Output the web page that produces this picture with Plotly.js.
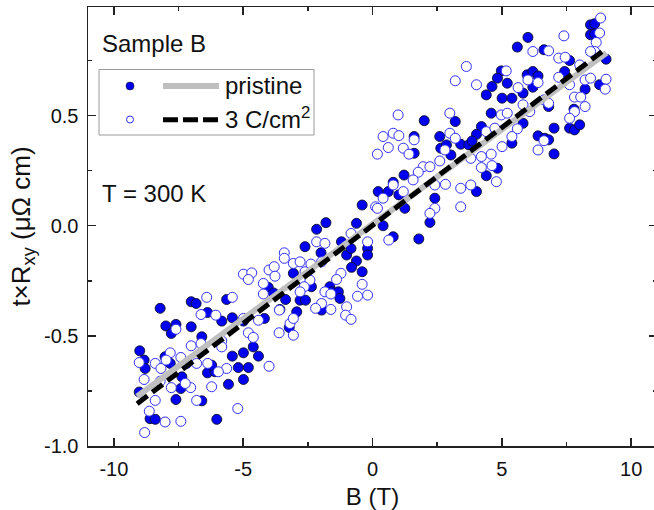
<!DOCTYPE html>
<html>
<head>
<meta charset="utf-8">
<script src="https://cdn.plot.ly/plotly-3.0.1.min.js"></script>
<style>
html,body{margin:0;padding:0;overflow:hidden;background:#fff;}
#chart{width:660px;height:510px;}
</style>
</head>
<body>
<div id="chart"></div>
<script>
// ---- data ----
const pristineB = [
 -8.21,-7.01,-6.82,-6.38,-7.99,-7.78,-7.60,-7.01,-9.00,-8.83,-8.79,-8.02,-7.82,-6.60,-6.38,-6.09,-6.22,-7.37,-7.41,-9.02,-7.60,-6.60,-8.60,-8.40,-6.02,
 -5.64,-5.83,-5.42,-4.99,-4.03,-3.83,-4.18,-3.58,-3.36,-3.22,-2.93,-5.42,-4.99,-4.61,-4.41,-5.19,-4.80,-5.57,-4.99,
 -0.40,-1.80,-2.16,-0.62,-1.20,-2.61,-1.99,-1.00,-0.19,-0.19,-0.62,-0.81,-0.40,-3.06,-2.36,-1.65,-1.56,-1.32,-2.80,-2.59,-1.26,-1.97,-0.83,
 2.00,1.61,1.61,2.60,2.64,2.86,3.03,1.22,0.22,0.61,0.80,1.02,1.25,2.41,2.22,0.41,0.80,1.79,
 6.01,5.60,4.98,4.83,4.62,4.40,5.21,5.01,5.39,5.82,5.98,6.20,4.59,3.20,4.21,4.02,5.82,3.41,3.72,3.85,5.39,4.83,4.40,4.02,
 8.43,8.59,8.43,8.59,9.03,6.63,7.62,7.43,6.40,6.20,8.22,8.78,6.81,7.79,7.02,7.62,7.81,8.01,6.40,6.66,6.81,7.02
];
const pristineR = [
 -0.375,-0.345,-0.353,-0.394,-0.455,-0.489,-0.448,-0.459,-0.568,-0.610,-0.648,-0.595,-0.625,-0.504,-0.668,-0.663,-0.633,-0.686,-0.739,-0.755,-0.789,-0.795,-0.876,-0.879,-0.879,
 -0.335,-0.433,-0.418,-0.433,-0.280,-0.305,-0.421,-0.380,-0.335,-0.462,-0.391,-0.592,-0.577,-0.550,-0.592,-0.644,-0.644,-0.720,-0.698,
 0.094,0.014,-0.016,0.011,-0.073,-0.095,-0.123,-0.133,-0.103,-0.133,-0.160,-0.189,-0.209,-0.216,-0.277,-0.277,-0.300,-0.300,-0.338,-0.338,-0.330,-0.383,-0.103,
 0.477,0.405,0.329,0.405,0.352,0.367,0.321,0.230,0.155,0.155,0.197,0.140,0.079,0.125,0.015,0.000,-0.050,-0.060,
 0.855,0.811,0.703,0.670,0.632,0.594,0.647,0.579,0.579,0.602,0.685,0.700,0.511,0.473,0.450,0.415,0.465,0.370,0.367,0.385,0.375,0.261,0.227,0.155,
 0.912,0.917,0.867,0.871,0.756,0.799,0.750,0.700,0.680,0.629,0.620,0.640,0.541,0.529,0.443,0.443,0.435,0.458,0.408,0.397,0.390,0.326
];
const dosedB = [
 -6.41,-6.63,-6.06,-7.60,-7.01,-6.63,-7.82,-7.41,-9.02,-8.40,-8.18,-7.98,-7.18,-6.80,-6.37,-8.83,-8.21,-7.78,-7.03,-7.24,-6.22,-8.40,-6.80,-8.63,-8.02,-7.41,-8.81,
 -3.41,-3.41,-3.06,-4.99,-4.67,-4.80,-4.00,-3.80,-3.77,-4.22,-4.22,-5.42,-4.99,-4.41,-3.60,-3.19,-4.80,-4.61,-3.61,-5.83,-5.83,-5.64,-5.96,-4.00,-5.21,
 0.12,-0.83,-0.19,-2.16,-1.84,-2.80,-2.38,-1.97,-2.61,-1.22,-1.39,-2.42,-2.64,-2.80,-0.40,-1.84,-1.61,-0.58,-0.19,-1.97,-2.20,-1.61,-1.00,-1.04,-0.83,-3.06,-3.06,
 0.99,2.99,0.41,0.80,1.02,0.61,0.19,1.19,1.41,1.61,2.99,2.80,3.20,1.96,2.22,1.77,1.57,2.60,2.41,2.82,0.80,0.41,1.19,0.19,2.41,2.22,0.63,
 3.63,3.20,4.02,5.17,6.20,6.01,5.63,5.82,4.98,5.21,5.60,5.39,4.40,4.73,5.01,3.80,4.21,4.59,4.21,4.62,4.79,3.80,3.41,3.41,
 8.82,8.78,8.65,8.59,8.43,7.40,6.81,7.20,7.45,8.01,7.20,6.40,7.62,8.22,8.43,9.03,9.00,7.81,8.05,8.22,6.08,6.63,6.81,7.81,7.62,6.63,6.40
];
const dosedR = [
 -0.325,-0.403,-0.406,-0.470,-0.545,-0.535,-0.577,-0.598,-0.621,-0.625,-0.648,-0.610,-0.625,-0.625,-0.625,-0.698,-0.706,-0.735,-0.735,-0.716,-0.731,-0.793,-0.793,-0.842,-0.891,-0.888,-0.939,
 -0.123,-0.148,-0.171,-0.220,-0.214,-0.244,-0.201,-0.186,-0.229,-0.262,-0.310,-0.325,-0.421,-0.429,-0.383,-0.444,-0.486,-0.507,-0.486,-0.523,-0.550,-0.648,-0.663,-0.638,-0.830,
 0.086,-0.035,-0.073,-0.073,-0.080,-0.164,-0.174,-0.164,-0.209,-0.216,-0.244,-0.247,-0.277,-0.300,-0.266,-0.300,-0.310,-0.320,-0.315,-0.353,-0.375,-0.380,-0.368,-0.406,-0.425,-0.421,-0.497,
 0.503,0.511,0.405,0.420,0.409,0.355,0.325,0.352,0.325,0.390,0.420,0.344,0.397,0.268,0.268,0.243,0.208,0.294,0.185,0.188,0.185,0.125,0.155,0.079,0.079,0.056,-0.065,
 0.723,0.658,0.640,0.703,0.791,0.662,0.627,0.549,0.503,0.511,0.440,0.405,0.427,0.443,0.359,0.306,0.314,0.325,0.264,0.273,0.200,0.185,0.170,0.086,
 0.943,0.875,0.832,0.791,0.791,0.862,0.794,0.761,0.765,0.730,0.674,0.650,0.640,0.662,0.670,0.665,0.620,0.584,0.584,0.541,0.518,0.571,0.556,0.518,0.488,0.386,0.344
];
const fitB = [-9.1, 9.05];
const pristineFit = [-0.775, 0.785];
const dosedFit = [-0.808, 0.806];

const xTickVals = [-10, -5, 0, 5, 10];
const xTickText = ['-10', '-5', '0', '5', '10'];
const xMinorVals = [-7.5, -2.5, 2.5, 7.5];
const yTickVals = [-1.0, -0.5, 0.0, 0.5];
const yTickText = ['-1.0', '-0.5', '0.0', '0.5'];
const yMinorVals = [-0.75, -0.25, 0.25, 0.75];

const legendNames = ['pristine', '3 C/cm<sup>2</sup>'];
const labelSample = 'Sample B';
const labelTemp = 'T = 300 K';

// ---- styles ----
const FONT = 'Liberation Sans, Arial, sans-serif';
const AX = '#222';
const BLUE = '#0000f0';
const OPENBLUE = '#3030ff';
const GREY = '#bfbfbf';

const traces = [
  {x: pristineB, y: pristineR, type: 'scatter', mode: 'markers', name: 'pristine data',
   marker: {symbol: 'circle', size: 10, color: BLUE, line: {color: '#101030', width: 0.9}}},
  {x: dosedB, y: dosedR, type: 'scatter', mode: 'markers', name: 'dosed data',
   marker: {symbol: 'circle', size: 10, color: '#ffffff', line: {color: OPENBLUE, width: 1}}},
  {x: fitB, y: pristineFit, type: 'scatter', mode: 'lines', name: 'pristine',
   line: {color: GREY, width: 6}},
  {x: fitB, y: dosedFit, type: 'scatter', mode: 'lines', name: '3 C/cm2',
   line: {color: '#000', width: 5, dash: '13px,6px'}}
];

// pixel geometry helpers for paper coordinates
const W = 660, H = 510, ML = 88, MR = 3, MT = 7, MB = 64;
const PW = W - ML - MR, PH = H - MT - MB;
const px = v => (v - ML) / PW;
const py = v => (H - MB - v) / PH;

const shapes = [
  {type: 'rect', xref: 'paper', yref: 'paper', x0: px(99), x1: px(314), y0: py(135), y1: py(69.5),
   line: {color: '#9a9a9a', width: 1}, fillcolor: 'rgba(0,0,0,0)'},
  {type: 'circle', xref: 'paper', yref: 'paper', xsizemode: 'pixel', ysizemode: 'pixel',
   xanchor: px(130), yanchor: py(86), x0: -4, x1: 4, y0: -4, y1: 4,
   fillcolor: BLUE, line: {color: '#101030', width: 0.6}},
  {type: 'circle', xref: 'paper', yref: 'paper', xsizemode: 'pixel', ysizemode: 'pixel',
   xanchor: px(130), yanchor: py(119.5), x0: -3.5, x1: 3.5, y0: -3.5, y1: 3.5,
   fillcolor: '#fff', line: {color: OPENBLUE, width: 1}},
  {type: 'line', xref: 'paper', yref: 'paper', x0: px(163), x1: px(219), y0: py(86), y1: py(86),
   line: {color: GREY, width: 6}},
  {type: 'line', xref: 'paper', yref: 'paper', x0: px(163), x1: px(220), y0: py(119.7), y1: py(119.7),
   line: {color: '#000', width: 5, dash: '15px,5px'}}
];

const annotations = [
  {text: legendNames[0], xref: 'paper', yref: 'paper', x: px(223), y: py(85), xanchor: 'left', yanchor: 'middle',
   showarrow: false, font: {family: FONT, size: 24, color: '#111'}},
  {text: legendNames[1], xref: 'paper', yref: 'paper', x: px(223), y: py(118), xanchor: 'left', yanchor: 'middle',
   showarrow: false, font: {family: FONT, size: 24, color: '#111'}},
  {text: labelSample, xref: 'paper', yref: 'paper', x: px(100), y: py(43), xanchor: 'left', yanchor: 'middle',
   showarrow: false, font: {family: FONT, size: 24, color: '#111'}},
  {text: labelTemp, xref: 'paper', yref: 'paper', x: px(100), y: py(193), xanchor: 'left', yanchor: 'middle',
   showarrow: false, font: {family: FONT, size: 24, color: '#111'}}
];

const layout = {
  width: W, height: H,
  margin: {l: ML, r: MR, t: MT, b: MB, pad: 0},
  paper_bgcolor: '#fff', plot_bgcolor: '#fff',
  showlegend: false,
  font: {family: FONT, color: '#111'},
  xaxis: {
    range: [-11, 11], autorange: false,
    tickmode: 'array', tickvals: xTickVals, ticktext: xTickText,
    ticks: 'inside', ticklen: 8, tickwidth: 1.5, tickcolor: AX,
    minor: {tickmode: 'array', tickvals: xMinorVals, ticks: 'inside', ticklen: 4, tickwidth: 1.5, tickcolor: AX},
    showline: true, linecolor: AX, linewidth: 1.5, mirror: 'ticks',
    showgrid: false, zeroline: false,
    tickfont: {family: FONT, size: 20, color: '#111'},
    ticklabelstandoff: 4,
    title: {text: 'B (T)', font: {family: FONT, size: 24, color: '#111'}, standoff: 9}
  },
  yaxis: {
    range: [-1, 0.993], autorange: false,
    tickmode: 'array', tickvals: yTickVals, ticktext: yTickText,
    ticks: 'inside', ticklen: 8, tickwidth: 1.5, tickcolor: AX,
    minor: {tickmode: 'array', tickvals: yMinorVals, ticks: 'inside', ticklen: 4, tickwidth: 1.5, tickcolor: AX},
    showline: true, linecolor: AX, linewidth: 1.5, mirror: 'ticks',
    showgrid: false, zeroline: false,
    tickfont: {family: FONT, size: 20, color: '#111'},
    ticklabelstandoff: 4,
    title: {text: 't×R<sub>xy</sub> (μΩ cm)', font: {family: FONT, size: 26, color: '#111'}, standoff: 6}
  },
  shapes: shapes,
  annotations: annotations
};

Plotly.newPlot('chart', traces, layout, {staticPlot: true, displayModeBar: false});
</script>
</body>
</html>
